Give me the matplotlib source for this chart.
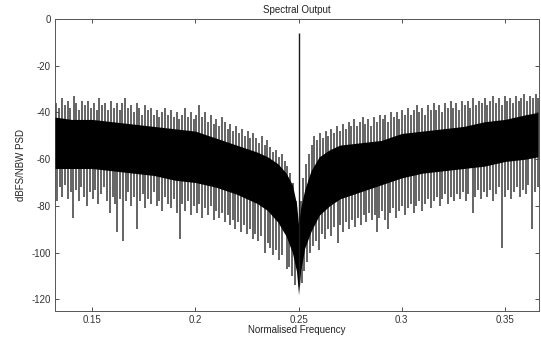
import numpy as np
import matplotlib
matplotlib.use("Agg")
import matplotlib.pyplot as plt

plt.rcParams["font.family"] = ["Liberation Sans", "DejaVu Sans"]
plt.rcParams["axes.unicode_minus"] = False

# Dense noise core: upper / lower edge of the solid black band (dBFS/NBW)
core_freq = [0.132, 0.14, 0.15, 0.16, 0.17, 0.18, 0.19, 0.20, 0.21, 0.22, 0.23,
             0.235, 0.24, 0.244, 0.247, 0.249, 0.25, 0.251, 0.253, 0.256, 0.26,
             0.265, 0.27, 0.28, 0.29, 0.30, 0.31, 0.32, 0.33, 0.34, 0.35, 0.36, 0.366]
core_top = [-42, -43, -43, -44, -45, -46, -47, -48, -51, -54, -57,
            -59, -62, -66, -71, -79, -88, -81, -73, -65, -59,
            -56, -54, -53, -52, -49, -48, -47, -46, -44, -43, -41, -40]
core_bottom = [-64, -64, -64, -65, -66, -67, -69, -70, -72, -75, -79,
               -82, -87, -93, -100, -108, -118, -108, -98, -91, -84,
               -80, -77, -74, -71, -68, -66, -65, -64, -63, -61, -60, -59]

# Upward noise peaks above the core
up_freq = [0.1325, 0.1340, 0.1352, 0.1368, 0.1381, 0.1395, 0.1410, 0.1424, 0.1437, 0.1450,
           0.1466, 0.1480, 0.1493, 0.1508, 0.1521, 0.1535, 0.1550, 0.1564, 0.1578, 0.1590,
           0.1605, 0.1619, 0.1633, 0.1646, 0.1660, 0.1674, 0.1688, 0.1701, 0.1715, 0.1729,
           0.1743, 0.1757, 0.1770, 0.1785, 0.1798, 0.1812, 0.1826, 0.1840, 0.1853, 0.1867,
           0.1880, 0.1895, 0.1909, 0.1922, 0.1936, 0.1950, 0.1964, 0.1978, 0.1991, 0.2005,
           0.2019, 0.2033, 0.2046, 0.2060, 0.2074, 0.2088, 0.2101, 0.2115, 0.2129, 0.2143,
           0.2157, 0.2170, 0.2184, 0.2198, 0.2212, 0.2225, 0.2239, 0.2253, 0.2267, 0.2280,
           0.2294, 0.2308, 0.2322, 0.2335, 0.2349, 0.2363, 0.2377, 0.2390, 0.2404, 0.2418,
           0.2432, 0.2445, 0.2460, 0.2475, 0.2490,
           0.2510, 0.2523, 0.2536, 0.2550, 0.2563, 0.2577, 0.2590, 0.2604, 0.2618, 0.2632,
           0.2645, 0.2659, 0.2673, 0.2687, 0.2700, 0.2714, 0.2728, 0.2742, 0.2755, 0.2769,
           0.2783, 0.2797, 0.2810, 0.2824, 0.2838, 0.2852, 0.2865, 0.2879, 0.2893, 0.2907,
           0.2920, 0.2934, 0.2948, 0.2962, 0.2975, 0.2989, 0.3003, 0.3017, 0.3030, 0.3044,
           0.3058, 0.3072, 0.3085, 0.3099, 0.3113, 0.3127, 0.3140, 0.3154, 0.3168, 0.3182,
           0.3195, 0.3209, 0.3223, 0.3237, 0.3250, 0.3264, 0.3278, 0.3292, 0.3305, 0.3319,
           0.3333, 0.3347, 0.3360, 0.3374, 0.3388, 0.3402, 0.3415, 0.3429, 0.3443, 0.3457,
           0.3470, 0.3484, 0.3498, 0.3512, 0.3525, 0.3539, 0.3553, 0.3567, 0.3580, 0.3594,
           0.3608, 0.3622, 0.3635, 0.3649, 0.3660]
up_level = [-36, -38, -34, -37, -35, -38, -33, -36, -39, -35,
            -37, -35, -38, -36, -39, -34, -37, -36, -39, -35,
            -38, -36, -39, -36, -34, -38, -37, -40, -36, -38,
            -41, -37, -39, -38, -41, -39, -42, -40, -38, -41,
            -39, -42, -40, -43, -41, -38, -42, -40, -43, -41,
            -37, -42, -40, -44, -41, -45, -43, -46, -42, -44,
            -47, -45, -48, -46, -49, -47, -50, -48, -51, -49,
            -51, -53, -50, -54, -52, -55, -57, -56, -59, -58,
            -61, -63, -66, -70, -78,
            -78, -68, -62, -58, -54, -50, -52, -49, -51, -48,
            -50, -47, -49, -46, -48, -45, -47, -44, -46, -43,
            -46, -44, -42, -45, -43, -46, -42, -44, -41, -43,
            -41, -44, -40, -42, -40, -43, -39, -41, -38, -41,
            -39, -37, -40, -38, -41, -37, -39, -36, -39, -37,
            -40, -36, -38, -35, -38, -36, -39, -35, -37, -35,
            -38, -34, -37, -35, -36, -34, -37, -35, -33, -36,
            -34, -37, -33, -35, -34, -36, -33, -35, -34, -32,
            -35, -33, -34, -32, -34]

# Downward noise troughs below the core
down_freq = [0.1328, 0.1342, 0.1355, 0.1370, 0.1384, 0.1398, 0.1407, 0.1420, 0.1434, 0.1447,
             0.1461, 0.1475, 0.1489, 0.1502, 0.1516, 0.1530, 0.1544, 0.1557, 0.1571, 0.1586,
             0.1599, 0.1612, 0.1620, 0.1634, 0.1649, 0.1662, 0.1676, 0.1690, 0.1703, 0.1716,
             0.1730, 0.1744, 0.1758, 0.1771, 0.1785, 0.1799, 0.1813, 0.1826, 0.1840, 0.1854,
             0.1868, 0.1881, 0.1895, 0.1910, 0.1924, 0.1937, 0.1951, 0.1965, 0.1979, 0.1992,
             0.2006, 0.2020, 0.2034, 0.2048, 0.2061, 0.2075, 0.2089, 0.2102, 0.2116, 0.2130,
             0.2144, 0.2157, 0.2166, 0.2180, 0.2194, 0.2208, 0.2222, 0.2235, 0.2249, 0.2263,
             0.2277, 0.2290, 0.2304, 0.2318, 0.2336, 0.2350, 0.2364, 0.2378, 0.2392, 0.2406,
             0.2420, 0.2442, 0.2455, 0.2470, 0.2485,
             0.2515, 0.2528, 0.2541, 0.2555, 0.2570, 0.2584, 0.2601, 0.2615, 0.2629, 0.2643,
             0.2657, 0.2671, 0.2689, 0.2703, 0.2717, 0.2731, 0.2745, 0.2759, 0.2773, 0.2787,
             0.2801, 0.2815, 0.2829, 0.2843, 0.2857, 0.2871, 0.2878, 0.2892, 0.2906, 0.2920,
             0.2931, 0.2945, 0.2959, 0.2973, 0.2987, 0.3001, 0.3015, 0.3029, 0.3043, 0.3057,
             0.3071, 0.3085, 0.3099, 0.3113, 0.3127, 0.3141, 0.3155, 0.3169, 0.3183, 0.3197,
             0.3211, 0.3225, 0.3239, 0.3253, 0.3267, 0.3281, 0.3295, 0.3309, 0.3323, 0.3343,
             0.3357, 0.3371, 0.3385, 0.3399, 0.3413, 0.3427, 0.3441, 0.3455, 0.3469, 0.3488,
             0.3502, 0.3516, 0.3530, 0.3544, 0.3558, 0.3572, 0.3586, 0.3600, 0.3614, 0.3633,
             0.3647, 0.3660]
down_level = [-78, -72, -76, -71, -77, -74, -85, -73, -78, -72,
              -76, -80, -74, -77, -73, -79, -75, -72, -78, -83,
              -76, -79, -91, -77, -95, -78, -74, -80, -76, -90,
              -78, -75, -81, -77, -79, -74, -80, -78, -82, -76,
              -79, -81, -77, -83, -94, -79, -82, -78, -84, -80,
              -83, -79, -85, -81, -84, -80, -86, -82, -85, -83,
              -87, -84, -88, -86, -90, -87, -91, -88, -92, -90,
              -94, -92, -95, -93, -100, -96, -98, -101, -99, -103,
              -101, -107, -106, -110, -114,
              -113, -108, -104, -100, -97, -95, -99, -92, -94, -90,
              -93, -89, -96, -88, -91, -87, -90, -86, -89, -85,
              -88, -84, -87, -83, -86, -84, -91, -85, -82, -86,
              -90, -83, -81, -85, -82, -80, -84, -81, -79, -83,
              -80, -78, -82, -79, -77, -81, -78, -76, -80, -77,
              -75, -79, -76, -78, -75, -77, -74, -78, -75, -83,
              -76, -73, -77, -74, -76, -73, -78, -75, -72, -98,
              -76, -73, -77, -74, -72, -76, -73, -75, -71, -90,
              -74, -72]

# Carrier tone at fs/4
tone_freq = 0.25
tone_level = -6

xticks = [0.15, 0.2, 0.25, 0.3, 0.35]
xtick_labels = ["0.15", "0.2", "0.25", "0.3", "0.35"]
yticks = [-120, -100, -80, -60, -40, -20, 0]


def main():
    fig = plt.figure(figsize=(5.41, 3.39), dpi=100)
    ax = fig.add_axes([0.1017, 0.0826, 0.8946, 0.8614])

    # spikes grow out of the middle of the noise band
    core_mid = (np.array(core_top) + np.array(core_bottom)) / 2
    up_base = np.interp(up_freq, core_freq, core_mid)
    down_base = np.interp(down_freq, core_freq, core_mid)
    ax.vlines(up_freq, up_base, up_level, color="#4a4a4a", linewidth=1.2, zorder=2)
    ax.vlines(down_freq, down_base, down_level, color="#4a4a4a", linewidth=1.2, zorder=2)
    ax.fill_between(core_freq, core_bottom, core_top, color="black", linewidth=0, zorder=3)
    ax.vlines([tone_freq], [min(down_level)], [tone_level], color="#1a1a1a",
              linewidth=1.0, zorder=4)

    ax.set_xlim(0.132, 0.3665)
    ax.set_ylim(-125, 0)
    ax.set_xticks(xticks)
    ax.set_xticklabels(xtick_labels)
    ax.set_yticks(yticks)
    ax.tick_params(direction="in", length=3, width=0.6, top=True, right=True,
                   labelsize=7, colors="#333333", pad=3)
    for s in ax.spines.values():
        s.set_color("#555555")
        s.set_linewidth(0.7)

    ax.set_title("Spectral Output", fontsize=7, color="#222222", pad=4)
    ax.set_xlabel("Normalised Frequency", fontsize=7, color="#222222", labelpad=0)
    ax.set_ylabel("dBFS/NBW PSD", fontsize=7, color="#222222", labelpad=4)

    fig.savefig("out.png", dpi=100, facecolor="white")
    plt.close(fig)


if __name__ == "__main__":
    main()
